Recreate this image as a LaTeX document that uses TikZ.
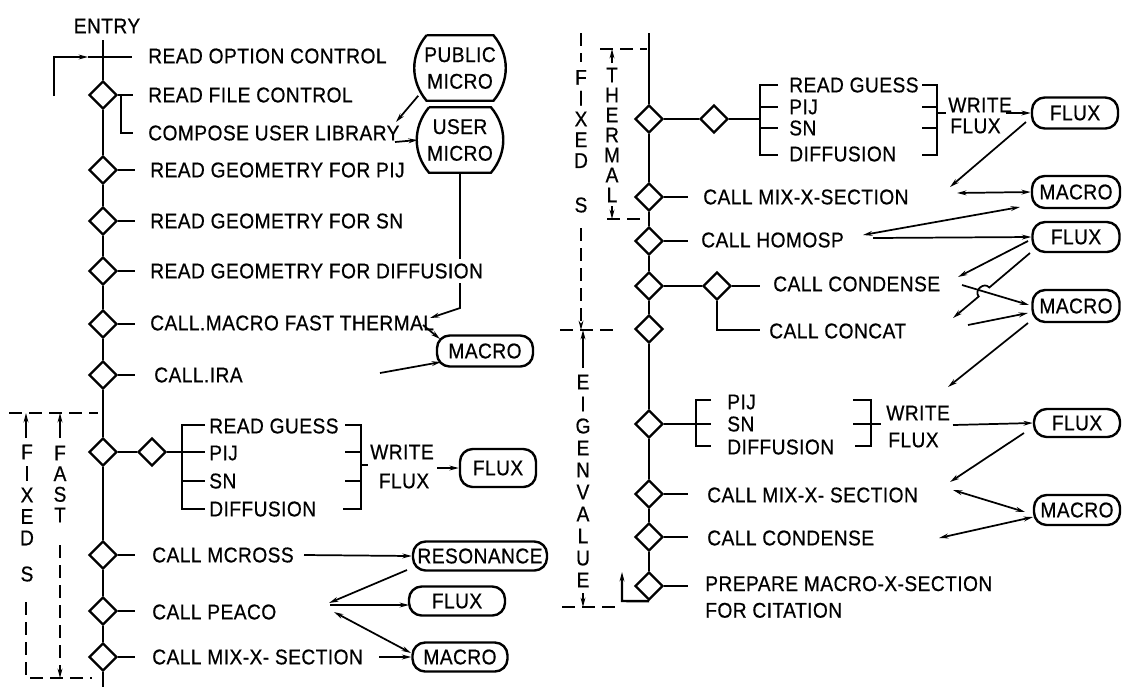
\documentclass[tikz,border=0pt]{standalone}
\usepackage{fontspec}
\setmainfont{Liberation Sans}[FakeStretch=0.9, FakeBold=0.6, LetterSpace=2]
\usetikzlibrary{shapes.geometric,arrows.meta}
\pgfdeclarelayer{bg}
\pgfsetlayers{bg,main}
\begin{document}
\begin{tikzpicture}[x=0.75pt,y=-0.75pt,
  every node/.style={font=\fontsize{16}{20}\selectfont, inner sep=0pt},
  txt/.style={anchor=west},
  dia/.style={diamond, draw, line width=1.8pt, minimum width=28*0.75pt, minimum height=28*0.75pt, inner sep=0pt},
  ml/.style={line width=1.8pt},
  tip/.style={-{Stealth[length=7pt,width=3.6pt]}},
  arr/.style={line width=1.3pt, -{Stealth[length=7pt,width=3.6pt]}},
  darr/.style={line width=1.3pt, {Stealth[length=7pt,width=3.6pt]}-{Stealth[length=7pt,width=3.6pt]}},
  dsh/.style={line width=1.3pt, dash pattern=on 10pt off 5pt},
  ov/.style 2 args={draw, line width=1.8pt, rounded corners=9.5pt, minimum width=#1*0.75pt, minimum height=#2*0.75pt},
  drum/.style 2 args={minimum width=#1*0.75pt, minimum height=#2*0.75pt, align=center},
  vst/.style={align=center, font=\fontsize{16}{#1}\selectfont}
]
\path[use as bounding box] (0,0) rectangle (1123,687);

% ---------------- LEFT COLUMN ----------------
\node (entry) at (107,26) {ENTRY};
\coordinate (ltop) at (103,40);
\coordinate (lbot) at (103,687);
\node[dia] (L1) at (103,95) {};
\node[dia] (L2) at (103,170) {};
\node[dia] (L3) at (103,221) {};
\node[dia] (L4) at (103,271) {};
\node[dia] (L5) at (103,324) {};
\node[dia] (L6) at (103,375) {};
\node[dia] (L7) at (103,452) {};
\node[dia] (L7b) at (152,452) {};
\node[dia] (L8) at (103,555) {};
\node[dia] (L9) at (103,611) {};
\node[dia] (L10) at (103,657) {};

\draw[ml] (ltop) -- (L1) -- (L2) -- (L3) -- (L4) -- (L5) -- (L6) -- (L7) -- (L8) -- (L9) -- (L10) -- (lbot);

\node[txt] (t1) at (148,56) {READ OPTION CONTROL};
\node[txt] (t2) at (148,95) {READ FILE CONTROL};
\node[txt] (t3) at (148,133) {COMPOSE USER LIBRARY};
\node[txt] (t4) at (150,170) {READ GEOMETRY FOR PIJ};
\node[txt] (t5) at (150,221) {READ GEOMETRY FOR SN};
\node[txt, fill=white, inner ysep=3pt] (t6) at (150,271) {READ GEOMETRY FOR DIFFUSION};
\node[txt] (t7) at (150,323) {CALL.MACRO FAST THERMAL};
\node[txt] (t8) at (154,375) {CALL.IRA};
\node[txt] (g1) at (209,426) {READ GUESS};
\node[txt] (g2) at (209,453) {PIJ};
\node[txt] (g3) at (209,481) {SN};
\node[txt] (g4) at (209,509) {DIFFUSION};
\node (w1) at (402,452) {WRITE};
\node (w2) at (404,481) {FLUX};
\node[txt] (t9) at (152,555) {CALL MCROSS};
\node[txt] (t10) at (152,612) {CALL PEACO};
\node[txt] (t11) at (152,657) {CALL MIX-X- SECTION};

% entry loop
\coordinate (lin) at (54,96);
\draw[ml, tip] (lin) |- (88,57);
\draw[ml] (88,57) -- (132,57);
% ticks
\draw[ml] (L1.east) -- (133,95);
\draw[ml] (121,95) |- (133,133);
\foreach \n in {L2,L3,L4,L5,L6,L8,L9,L10} \draw[ml] (\n.east) -- ++(17,0);
% fast group
\draw[ml] (L7) -- (L7b);
\draw[ml] (L7b.east) -- (205,452);
\draw[ml] (205,425) -- (182,425) -- (182,509) -- (205,509);
\draw[ml] (182,481) -- (205,481);
\draw[ml] (345,425) -- (361,425) -- (361,509) -- (343,509);
\draw[ml] (345,452) -- (361,452);
\draw[ml] (345,481) -- (361,481);
\draw[ml] (361,465) -- (368,465);

% data boxes left
\node[drum={89}{65}] (pm) at (460,68) {PUBLIC\\MICRO};
\node[drum={84}{65}] (um) at (460,140) {USER\\MICRO};
\foreach \b in {pm,um}
  \draw[line width=1.8pt] ([xshift=8.5pt]\b.north west) -- ([xshift=-8.5pt]\b.north east)
     to[bend left=40] ([xshift=-8.5pt]\b.south east) -- ([xshift=8.5pt]\b.south west)
     to[bend left=40] ([xshift=8.5pt]\b.north west);
\node[ov={96}{31}] (lm1) at (485,351) {MACRO};
\node[ov={76}{38}] (lf1) at (498,468) {FLUX};
\node[ov={134}{29}] (res) at (480,556) {RESONANCE};
\node[ov={96}{29}] (lf2) at (457,601) {FLUX};
\node[ov={95}{29}] (lm3) at (460,657) {MACRO};

\begin{pgfonlayer}{bg}
\draw[arr] (um.south) -- (460,308) -- (430,318);
\end{pgfonlayer}
\draw[arr] ([shift={(3,-5)}]pm.south west) -- (396,122);
\draw[arr] (395,142) -- (um.west);
\draw[arr] (423,325) -- (440,339);
\draw[arr] (380,373) -- (441,362);
\draw[arr] (437,468) -- (lf1.west);
\draw[arr] (304,555) -- (res.west);
\draw[arr] (407,570) -- (329,603);
\draw[arr] (330,605) -- (409,605);
\draw[darr] (334,612) -- (411,653);
\draw[arr] (379,657) -- (lm3.west);

% fixed / fast labels
\draw[dsh] (9,413) -- (98,413);
\draw[arr] (26,438) -- (26,413);
\draw[arr] (60,438) -- (60,413);
\node[vst=16.1] (fx1) at (27,495) {F\\I\\X\\E\\D};
\node (fx2) at (27,574) {S};
\node[vst=15.5] (fa1) at (60,484) {F\\A\\S\\T};
\draw[dsh] (26,602) -- (26,678) -- (92,678);
\draw[dsh, tip] (60,545) -- (60,678);

% ---------------- RIGHT COLUMN ----------------
\coordinate (rtop) at (649,33);
\node[dia] (A) at (649,119) {};
\node[dia] (A2) at (714,119) {};
\node[dia] (B) at (649,197) {};
\node[dia] (C) at (649,241) {};
\node[dia] (D) at (649,286) {};
\node[dia] (D2) at (717,286) {};
\node[dia] (E) at (649,329) {};
\node[dia] (F) at (649,424) {};
\node[dia] (G) at (649,494) {};
\node[dia] (H) at (649,537) {};
\node[dia] (I) at (649,586) {};
\draw[ml] (rtop) -- (A) -- (B) -- (C) -- (D) -- (E) -- (F) -- (G) -- (H) -- (I);
\foreach \n in {B,C,G,H,I} \draw[ml] (\n.east) -- ++(24,0);
\coordinate (loop) at (622,601);
\draw[ml, tip] (I.south) -- (loop) -- (622,572);

% top group
\draw[ml] (A) -- (A2);
\draw[ml] (A2.east) -- (760,119);
\draw[ml] (778,85) -- (760,85) -- (760,155) -- (778,155);
\draw[ml] (760,107) -- (778,107);
\draw[ml] (760,128) -- (778,128);
\draw[ml] (922,85) -- (937,85) -- (937,155) -- (922,155);
\draw[ml] (922,107) -- (937,107);
\draw[ml] (922,128) -- (937,128);
\draw[ml] (937,113) -- (946,113);
\node[txt] (r1) at (789,85) {READ GUESS};
\node[txt] (r2) at (789,107) {PIJ};
\node[txt] (r3) at (789,128) {SN};
\node[txt] (r4) at (789,154) {DIFFUSION};
\node[txt] (rw1) at (948,105) {WRITE};
\node[txt] (rw2) at (950,126) {FLUX};
\node[txt] (rb) at (703,197) {CALL MIX-X-SECTION};
\node[txt] (rc) at (701,240) {CALL HOMOSP};
% condense group
\draw[ml] (D) -- (D2);
\draw[ml] (D2.east) -- (760,286);
\draw[ml] (D2.south) |- (760,330);
\node[txt] (rd) at (773,284) {CALL CONDENSE};
\node[txt] (rd2) at (769,331) {CALL CONCAT};
% eigen group
\draw[ml] (F.east) -- (711,424);
\draw[ml] (711,400) -- (696,400) -- (696,446) -- (711,446);
\draw[ml] (853,400) -- (871,400) -- (871,446) -- (855,446);
\draw[ml] (853,424) -- (881,424);
\node[txt] (s1) at (727,402) {PIJ};
\node[txt] (s2) at (727,424) {SN};
\node[txt] (s3) at (727,447) {DIFFUSION};
\node[txt] (sw1) at (886,413) {WRITE};
\node[txt] (sw2) at (888,440) {FLUX};
\node[txt] (rg) at (707,495) {CALL MIX-X- SECTION};
\node[txt] (rh) at (707,538) {CALL CONDENSE};
\node[txt, align=left] (ri) at (705,597) {PREPARE MACRO-X-SECTION\\FOR CITATION};

% data boxes right
\node[ov={86}{31}] (fr1) at (1075,113) {FLUX};
\node[ov={88}{32}] (mr1) at (1076,192) {MACRO};
\node[ov={87}{30}] (fr2) at (1076,237) {FLUX};
\node[ov={87}{32}] (mr2) at (1076,306) {MACRO};
\node[ov={86}{28}] (fr3) at (1077,423) {FLUX};
\node[ov={86}{30}] (mr3) at (1077,510) {MACRO};

\draw[arr] (1006,113) -- (fr1.west);
\draw[arr] (1026,122) -- (950,187);
\draw[darr] (957,193) -- (mr1.west);
\draw[darr] (863,235) -- (1020,207);
\draw[arr] (873,238) -- (fr2.west);
\draw[arr] (1028,241) -- (958,277);
\draw[arr] (1030,253) -- (989.3,287.5) .. controls (984.1,281.4) and (973.5,290.4) .. (978.7,296.5) -- (953,318);
\draw[arr] (962,285) -- (1029,305);
\draw[arr] (968,325) -- (1028,313);
\draw[arr] (1028,323) -- (948,387);
\draw[arr] (953,425) -- (fr3.west);
\draw[arr] (1024,433) -- (950,482);
\draw[darr] (953,490) -- (1025,512);
\draw[darr] (939,538) -- (1033,517);

% right labels
\draw[dsh] (581,33) -- (581,62);
\node[vst=15.6] (rf1) at (581,119) {F\\I\\X\\E\\D};
\node (rf2) at (581,205) {S};
\draw[dsh, tip] (581,228) -- (581,330);
\draw[dsh] (560,330) -- (617,330);
\draw[arr] (583,368) -- (583,330);
\node[vst=16.5] (ev) at (583,481) {E\\I\\G\\E\\N\\V\\A\\L\\U\\E};
\draw[arr] (583,593) -- (583,607);
\draw[dsh] (562,607) -- (617,607);
\draw[dsh] (600,49) -- (647,49);
\draw[arr] (612,63) -- (612,49);
\node[vst=15] (th) at (612,135) {T\\H\\E\\R\\M\\A\\L};
\draw[arr] (612,206) -- (612,219);
\draw[dsh] (607,219) -- (647,219);
\end{tikzpicture}
\end{document}
